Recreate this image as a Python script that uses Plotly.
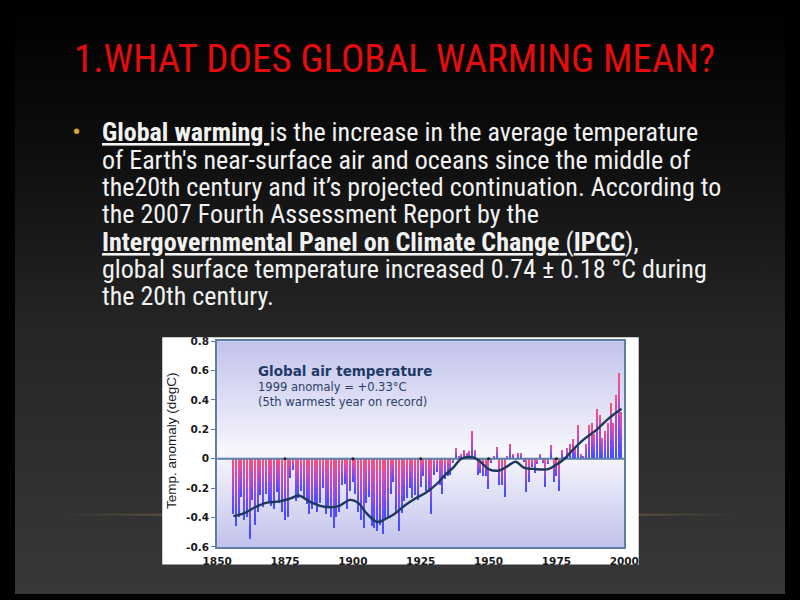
import plotly.graph_objects as go

# ---------------- data ----------------
years = list(range(1856, 2000))
anomaly = [
    -0.38, -0.46, -0.40, -0.26, -0.42, -0.40, -0.55, -0.28, -0.45, -0.36,
    -0.25, -0.33, -0.24, -0.30, -0.32, -0.34, -0.23, -0.30, -0.36, -0.42,
    -0.40, -0.13, -0.08, -0.29, -0.27, -0.22, -0.26, -0.31, -0.38, -0.34,
    -0.30, -0.36, -0.30, -0.20, -0.38, -0.33, -0.40, -0.47, -0.40, -0.36,
    -0.18, -0.17, -0.34, -0.22, -0.16, -0.24, -0.36, -0.42, -0.47, -0.30,
    -0.26, -0.46, -0.47, -0.49, -0.45, -0.51, -0.42, -0.40, -0.24, -0.16,
    -0.36, -0.49, -0.37, -0.29, -0.27, -0.20, -0.27, -0.25, -0.28, -0.19,
    -0.12, -0.22, -0.23, -0.38, -0.11, -0.09, -0.18, -0.24, -0.14, -0.12,
    -0.11, -0.03, 0.07, 0.02, 0.03, 0.06, 0.04, 0.05, 0.19, 0.06,
    -0.11, -0.10, -0.12, -0.12, -0.21, -0.03, 0.02, 0.08, -0.18, -0.18,
    -0.26, 0.02, 0.10, 0.03, -0.01, 0.04, 0.04, -0.02, -0.23, -0.16,
    -0.06, -0.10, -0.04, 0.03, -0.03, -0.19, -0.04, 0.09, -0.16, -0.12,
    -0.22, 0.06, 0.01, 0.07, 0.10, 0.13, 0.07, 0.23, 0.03, 0.02,
    0.10, 0.23, 0.24, 0.17, 0.34, 0.30, 0.14, 0.19, 0.24, 0.38,
    0.24, 0.43, 0.58, 0.32,
]
smooth_years = [1856, 1860, 1864, 1868, 1873, 1877, 1880, 1884, 1888, 1892,
                1895, 1899, 1902, 1905, 1909, 1912, 1915, 1919, 1923, 1927,
                1931, 1934, 1937, 1940, 1944, 1947, 1950, 1954, 1957, 1960,
                1963, 1967, 1972, 1975, 1978, 1981, 1985, 1990, 1994, 1999]
smooth_vals = [-0.39, -0.37, -0.33, -0.30, -0.29, -0.27, -0.25, -0.29, -0.32, -0.33,
               -0.32, -0.28, -0.30, -0.37, -0.43, -0.41, -0.38, -0.32, -0.27, -0.23,
               -0.17, -0.11, -0.06, 0.00, 0.01, -0.02, -0.07, -0.08, -0.05, -0.02,
               -0.06, -0.07, -0.07, -0.04, 0.00, 0.06, 0.13, 0.20, 0.27, 0.34]
y_ticks = [-0.6, -0.4, -0.2, 0, 0.2, 0.4, 0.6, 0.8]
y_ticklabels = ["-0.6", "-0.4", "-0.2", "0", "0.2", "0.4", "0.6", "0.8"]
x_ticks = [1850, 1875, 1900, 1925, 1950, 1975, 2000]
x_ticklabels = ["1850", "1875", "1900", "1925", "1950", "1975", "2000"]

title_text = "1.WHAT DOES GLOBAL WARMING MEAN?"
body_lines = [
    "<u><b>Global warming </b></u>is the increase in the average temperature",
    "of Earth's near-surface air and oceans since the middle of",
    "the20th century and it\u2019s projected continuation. According to",
    "the 2007 Fourth Assessment Report by the",
    "<u><b>Intergovernmental Panel on Climate Change</b> (<b>IPCC</b>),</u>",
    "global surface temperature increased 0.74 \u00b1 0.18 \u00b0C during",
    "the 20th century.",
]
chart_title = "Global air temperature"
chart_sub1 = "1999 anomaly = +0.33\u00b0C"
chart_sub2 = "(5th warmest year on record)"
y_title = "Temp. anomaly (degC)"


def cond(s):
    return "<span style='font-stretch:condensed'>%s</span>" % s


# ---------------- figure ----------------
W, H = 800, 600
PX0, PX1, PY0, PY1 = 210, 633, 342, 552   # chart plot area in page pixels
fig = go.Figure()

# slide background (page pixel coordinates, y downward)
fig.add_trace(go.Scatter(
    x=[0, W, W, 0, 0], y=[0, 0, H, H, 0], mode="lines", fill="toself",
    line=dict(width=0), hoverinfo="skip", showlegend=False,
    fillgradient=dict(type="vertical",
                      colorscale=[[0, "#383838"], [0.45, "#252525"],
                                  [0.75, "#0e0e0e"], [1, "#000000"]]),
    xaxis="x", yaxis="y"))
# faint glow line
fig.add_trace(go.Scatter(
    x=[40, 760, 760, 40, 40], y=[518, 518, 520, 520, 518], mode="lines", fill="toself",
    line=dict(width=0), hoverinfo="skip", showlegend=False,
    fillgradient=dict(type="horizontal",
                      colorscale=[[0, "rgba(120,100,60,0)"], [0.2, "rgba(160,130,80,0.6)"],
                                  [0.5, "rgba(120,100,60,0.25)"], [0.8, "rgba(160,130,80,0.6)"],
                                  [1, "rgba(120,100,60,0)"]]),
    xaxis="x", yaxis="y"))
# white card
fig.add_trace(go.Scatter(
    x=[153, 648, 648, 153, 153], y=[338, 338, 570, 570, 338], mode="lines", fill="toself",
    fillcolor="#ffffff", line=dict(width=0), hoverinfo="skip", showlegend=False,
    xaxis="x", yaxis="y"))
# chart plot-area gradient (drawn beneath the chart subplot)
fig.add_trace(go.Scatter(
    x=[PX0, PX1, PX1, PX0, PX0], y=[PY0, PY0, PY1, PY1, PY0], mode="lines",
    fill="toself", line=dict(width=0), hoverinfo="skip", showlegend=False,
    fillgradient=dict(type="vertical",
                      colorscale=[[0, "#c2c2ec"], [0.46, "#f7f7fd"], [1, "#c2c2ec"]]),
    xaxis="x", yaxis="y"))

# gradient bars: overlaid segments
far_to_near = ["#4a4cff", "#6a4cf4", "#8d4ce4", "#b24cce", "#d84cae", "#f24f86"]
N = len(far_to_near)
for k in range(N):
    frac = (N - k) / N
    cols = [far_to_near[k] if v < 0 else far_to_near[N - 1 - k] for v in anomaly]
    fig.add_trace(go.Bar(
        x=years, y=[v * frac for v in anomaly], width=0.78,
        marker=dict(color=cols, line=dict(width=0)),
        hoverinfo="skip", showlegend=False, xaxis="x2", yaxis="y2"))

axis_col = "#5b7fa6"
# zero line and its tick dots
fig.add_trace(go.Scatter(
    x=[x_ticks[0], x_ticks[-1]], y=[0, 0], mode="lines",
    line=dict(color=axis_col, width=2), hoverinfo="skip", showlegend=False,
    xaxis="x2", yaxis="y2"))
fig.add_trace(go.Scatter(
    x=x_ticks[1:-1], y=[0] * (len(x_ticks) - 2), mode="markers",
    marker=dict(color="#222222", size=3), hoverinfo="skip", showlegend=False,
    xaxis="x2", yaxis="y2"))

# smoothed curve
fig.add_trace(go.Scatter(
    x=smooth_years, y=smooth_vals, mode="lines",
    line=dict(color="#1d3a58", width=2.4, shape="spline", smoothing=1.0),
    hoverinfo="skip", showlegend=False, xaxis="x2", yaxis="y2"))

tick_font = dict(family="DejaVu Sans", size=10.5, color="#1a1a1a")
fig.update_layout(
    width=W, height=H, margin=dict(l=0, r=0, t=0, b=0),
    paper_bgcolor="#000000", plot_bgcolor="rgba(0,0,0,0)",
    barmode="overlay", bargap=0, showlegend=False,
    xaxis=dict(domain=[0, 1], range=[0, W], visible=False, fixedrange=True),
    yaxis=dict(domain=[0, 1], range=[H, 0], visible=False, fixedrange=True),
    xaxis2=dict(domain=[PX0 / W, PX1 / W], range=[1850, 2000], anchor="y2",
                showline=True, mirror=True, linecolor=axis_col, linewidth=2,
                showgrid=False, zeroline=False, ticks="", ticklabelstandoff=3,
                tickvals=x_ticks, ticktext=["<b>%s</b>" % t for t in x_ticklabels],
                tickfont=tick_font),
    yaxis2=dict(domain=[1 - PY1 / H, 1 - PY0 / H], range=[-0.6, 0.8], anchor="x2",
                showline=True, mirror=True, linecolor=axis_col, linewidth=2,
                showgrid=False, zeroline=False, ticks="outside", ticklen=4,
                tickcolor=axis_col, tickwidth=1,
                tickvals=y_ticks, ticktext=["<b>%s</b>" % t for t in y_ticklabels],
                tickfont=tick_font),
)

ann = []
ann.append(dict(text=cond(title_text), x=59 / W, y=1 - 54 / H, xref="paper", yref="paper",
                xanchor="left", yanchor="middle", showarrow=False,
                font=dict(family="Roboto", size=39, color="#e40c0c")))
ann.append(dict(text="\u2022", x=58 / W, y=1 - 128 / H, xref="paper", yref="paper",
                xanchor="left", yanchor="middle", showarrow=False,
                font=dict(family="Liberation Sans", size=20, color="#d9a434")))
for i, line in enumerate(body_lines):
    ann.append(dict(text=cond(line), x=88 / W, y=1 - (129 + 27.9 * i) / H, xref="paper",
                    yref="paper", xanchor="left", yanchor="middle", showarrow=False,
                    font=dict(family="Roboto", size=26, color="#f2f2f2")))
ann.append(dict(text="<b>%s</b>" % chart_title, x=250 / W, y=1 - 372 / H, xref="paper",
                yref="paper", xanchor="left", yanchor="middle", showarrow=False,
                font=dict(family="DejaVu Sans", size=13.5, color="#1f3a66")))
ann.append(dict(text=chart_sub1, x=250 / W, y=1 - 389 / H, xref="paper", yref="paper",
                xanchor="left", yanchor="middle", showarrow=False,
                font=dict(family="DejaVu Sans", size=11.5, color="#2a3e66")))
ann.append(dict(text=chart_sub2, x=250 / W, y=1 - 404 / H, xref="paper", yref="paper",
                xanchor="left", yanchor="middle", showarrow=False,
                font=dict(family="DejaVu Sans", size=11.5, color="#2a3e66")))
ann.append(dict(text=y_title, x=162 / W, y=1 - 443 / H, xref="paper", yref="paper",
                xanchor="center", yanchor="middle", textangle=-90, showarrow=False,
                font=dict(family="Liberation Sans", size=13.5, color="#1a1a1a")))
fig.update_layout(annotations=ann)

post = (
    "var st=document.createElement('style');"
    "st.textContent='html,body{margin:0 !important;padding:0 !important;overflow:hidden !important;background:#000;}';"
    "document.head.appendChild(st);"
    "var d=document.getElementById('{plot_id}');"
    "if(d){d.style.position='fixed';d.style.left='0px';d.style.top='0px';}"
)
fig.write_html("out.html", config={"displayModeBar": False}, post_script=post)
